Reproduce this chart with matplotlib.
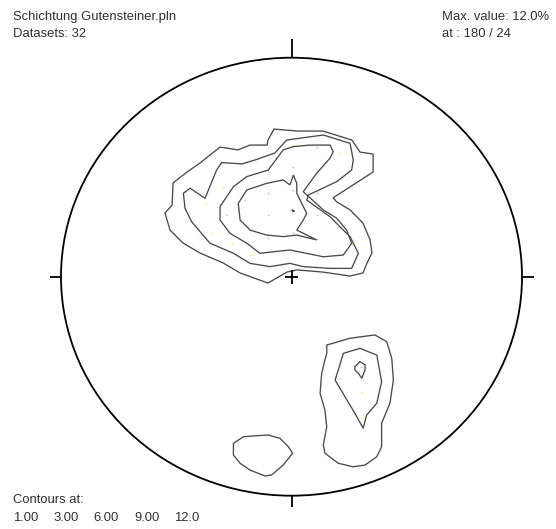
import matplotlib
matplotlib.use("Agg")
import matplotlib.pyplot as plt
from matplotlib.patches import Ellipse

# Stereonet contour polygons, coordinates in percent of the net radius (east, north)
# Northern cluster
n1_x = [-7.6, 2.8, 13.7, 26.2, 29.7, 35.4, 35.4, 18.0, 19.7, 25.4, 31.0, 34.1, 34.9, 32.8,
        31.0, 25.4, 13.7, 2.4, -2.0, -10.2, -22.3, -29.7, -39.7, -47.1, -52.7, -54.9, -51.8,
        -51.4, -45.3, -39.7, -31.0, -23.2, -18.0, -10.6, -10.2]
n1_y = [67.4, 66.5, 66.5, 62.4, 56.9, 56.0, 47.8, 36.0, 34.1, 30.5, 24.5, 16.8, 10.8, 6.3,
        1.7, 0.3, 2.1, 3.1, 2.1, -2.9, 1.7, 6.3, 10.8, 15.4, 21.3, 29.1, 32.7,
        42.8, 47.8, 51.9, 59.2, 57.9, 60.1, 60.1, 62.4]

n3_x = [-2.1, 13.8, 25.4, 26.8, 26.1, 19.6, 7.3, 6.6, 16.7, 21.0, 25.4, 29.0, 26.1, 16.7,
        5.1, -0.7, -9.3, -18.0, -25.2, -35.4, -43.3, -46.2, -46.9, -44.0, -37.5, -32.5,
        -30.3, -21.5, -15.8, -7.2]
n3_y = [62.4, 64.7, 60.9, 53.3, 48.7, 43.4, 37.3, 35.0, 27.4, 22.8, 18.3, 10.7, 3.8, 3.8,
        4.6, 6.1, 4.6, 6.1, 10.7, 15.3, 25.1, 31.2, 38.1, 40.4, 35.8, 48.7,
        52.1, 51.5, 53.3, 56.5]

n6_x = [16.7, 8.0, 0.8, -3.6, -10.1, -19.4, -25.2, -31.0, -31.0, -26.7, -19.4, -13.7, -0.7,
        13.8, 22.5, 26.1, 23.9, 19.6, 13.8, 5.1, 10.9, 16.7, 18.1]
n6_y = [60.1, 60.1, 59.4, 57.9, 48.7, 45.7, 41.1, 32.0, 25.9, 19.8, 15.3, 10.7, 12.2,
        9.1, 9.9, 15.3, 21.3, 26.7, 30.5, 38.8, 47.2, 54.1, 57.1]

n9_x = [-10.8, -3.6, -0.7, 0.8, 2.3, 2.3, 6.6, 5.1, 2.3, 10.9, 2.3, -3.6, -10.8, -18.0,
        -22.3, -23.1, -19.4]
n9_y = [42.6, 44.2, 41.9, 46.4, 42.6, 38.1, 28.9, 25.9, 21.3, 16.8, 19.0, 18.3, 19.0, 21.3,
        25.9, 33.5, 39.6]

n12_x = [0.2, 1.3, 0.6]
n12_y = [30.5, 30.0, 29.8]

# South-eastern cluster
e1_x = [15.3, 25.4, 36.2, 41.3, 43.5, 44.2, 42.7, 39.1, 39.1, 37.0, 31.9, 26.8, 20.3, 14.5,
        13.8, 15.3, 14.5, 12.4, 13.1, 14.5, 15.3]
e1_y = [-31.2, -28.1, -26.6, -29.7, -37.3, -47.2, -57.8, -66.9, -77.6, -82.2, -86.0, -86.8,
        -85.2, -80.6, -76.8, -68.5, -60.9, -53.2, -44.1, -38.0, -35.0]

e3_x = [22.5, 29.7, 37.0, 39.1, 37.0, 32.6, 31.1, 27.5, 18.9, 20.3, 21.8]
e3_y = [-35.0, -32.7, -35.8, -47.9, -57.8, -63.2, -69.2, -62.4, -47.2, -42.6, -37.3]

e6_x = [27.5, 29.7, 31.9, 31.9, 30.5, 29.0, 27.5]
e6_y = [-41.1, -38.8, -40.3, -42.6, -46.4, -44.1, -42.6]

# Southern cluster
s1_x = [-25.2, -20.9, -16.6, -10.1, -5.0, -1.4, 0.5, -3.6, -8.6, -11.5, -18.0, -22.3, -25.2]
s1_y = [-76.1, -73.1, -72.7, -72.3, -73.8, -77.6, -80.6, -86.0, -90.5, -91.0, -88.3, -85.2,
        -81.4]

contour_polygons = [
    (n1_x, n1_y), (n3_x, n3_y), (n6_x, n6_y), (n9_x, n9_y), (n12_x, n12_y),
    (e1_x, e1_y), (e3_x, e3_y), (e6_x, e6_y),
    (s1_x, s1_y),
]

# Counting-grid nodes, coloured by density class
low_x = [-30.3, -20.2, -10.2, 0.7, 21.0, -46.2, -37.5, -29.7, -43.3, -34.6, -25.9, -17.3,
         26.1, 17.9, 21.0, 30.6, 31.0]
low_y = [51.8, 45.7, 48.7, 60.1, 56.5, 38.8, 33.7, 40.5, 25.1, 20.0, 14.9, 9.9,
         14.9, 9.9, -46.3, -52.7, -64.1]
mid_x = [10.9, 0.8, 10.9, 10.9, -28.1, -10.1, 10.9, 19.6, 30.2]
mid_y = [59.4, 50.0, 48.4, 38.4, 28.2, 17.5, 28.2, 22.8, -41.2]
high_x = [-10.1, -20.2, -10.1, -18.7, 0.8, 10.9, 0.8]
high_y = [38.4, 35.0, 28.2, 22.8, 19.8, 17.1, 39.6]

contour_levels = [1.0, 3.0, 6.0, 9.0, 12.0]
title_text = "Schichtung Gutensteiner.pln"
dataset_count = 32
max_value = 12.0
max_at = (180, 24)

W, H = 556, 529
fig = plt.figure(figsize=(W / 100, H / 100), dpi=100)
fig.patch.set_facecolor("white")

ax = fig.add_axes([61 / W, (H - 495.7) / H, 461 / W, 438 / H])
ax.set_xlim(-100, 100)
ax.set_ylim(-100, 100)
ax.axis("off")

# Primitive circle
ax.add_patch(Ellipse((0, 0), 200, 200, fill=False, ec="black", lw=1.3, clip_on=False))

# Tick marks at N, S, E, W and centre cross
tk = dict(color="black", lw=1.3, clip_on=False, solid_capstyle="butt")
ax.plot([0, 0], [100, 108.7], **tk)
ax.plot([0, 0], [-100, -105.3], **tk)
ax.plot([-100, -104.8], [0, 0], **tk)
ax.plot([100, 105.2], [0, 0], **tk)
ax.plot([-2.8, 2.8], [0, 0], **tk)
ax.plot([0, 0], [-3.2, 3.2], **tk)

# Grid nodes
ax.scatter(low_x, low_y, s=1.5, c="#f2e27a", linewidths=0)
ax.scatter(mid_x, mid_y, s=1.5, c="#9fd0c8", linewidths=0)
ax.scatter(high_x, high_y, s=1.5, c="#f2a8a8", linewidths=0)

for xs, ys in contour_polygons:
    ax.fill(xs, ys, fill=False, ec="#4a4a4a", lw=0.95, joinstyle="miter")

font = dict(family=["Liberation Sans", "DejaVu Sans"], fontsize=9.4, color="#303030")


def ftext(px, py, s, **kw):
    fig.text(px / W, 1 - py / H, s, va="baseline", **font, **kw)


ftext(13, 20, title_text)
ftext(13, 37, f"Datasets: {dataset_count}")
ftext(442, 20, f"Max. value: {max_value:.1f}%")
ftext(442, 37, f"at : {max_at[0]} / {max_at[1]}")
ftext(13, 503, "Contours at:")
for i, lv in enumerate(contour_levels):
    ftext(13 + i * 40.3, 521, f"{lv:.2f}"[:4])

fig.savefig("out.png", dpi=100, facecolor="white")
